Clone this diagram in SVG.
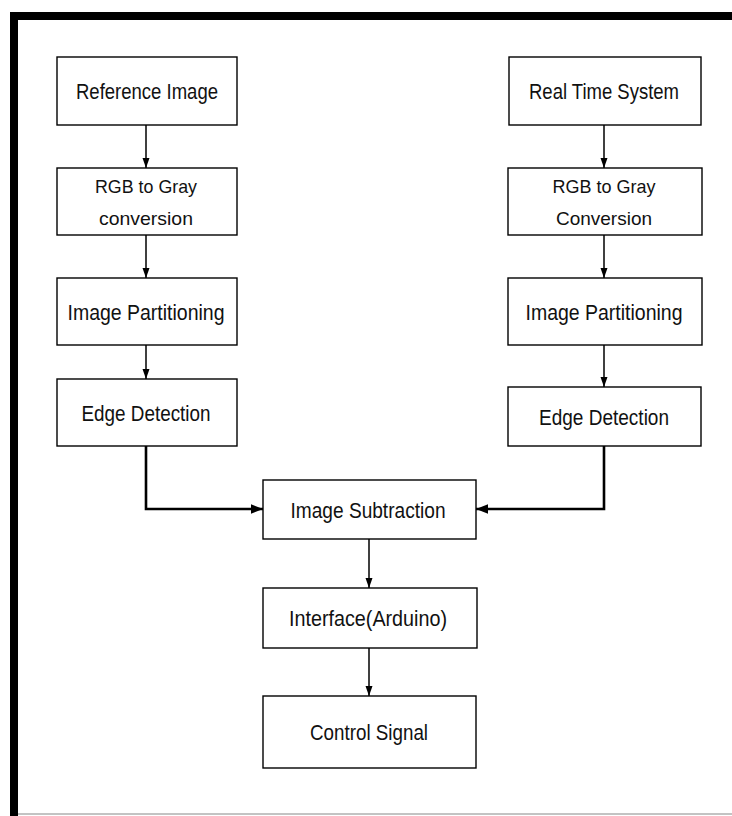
<svg xmlns="http://www.w3.org/2000/svg" width="732" height="816" viewBox="0 0 732 816">
<defs>
<style>
.box{fill:#fff;stroke:#000;stroke-width:1.4}
.t{font-family:"Liberation Sans",Arial,sans-serif;font-size:22px;fill:#111;text-anchor:middle}
.t2{font-family:"Liberation Sans",Arial,sans-serif;font-size:19px;fill:#111;text-anchor:middle}
.c{fill:none;stroke:#000;stroke-width:1.5}
.ct{fill:none;stroke:#000;stroke-width:2.6}
</style>
<marker id="a" markerUnits="userSpaceOnUse" markerWidth="10" markerHeight="10" viewBox="0 0 10 10" refX="10" refY="5" orient="auto">
<path d="M0,1.5 L10,5 L0,8.5 Z" fill="#000"/>
</marker>
<marker id="b" markerUnits="userSpaceOnUse" markerWidth="12" markerHeight="12" viewBox="0 0 10 10" refX="10" refY="5" orient="auto">
<path d="M0,1 L10,5 L0,9 Z" fill="#000"/>
</marker>
</defs>
<rect width="732" height="816" fill="#fff"/>
<g id="frame">
<rect x="10" y="12" width="722" height="8" fill="#000"/>
<rect x="10" y="12" width="8" height="804" fill="#000"/>
<line x1="18" y1="814" x2="732" y2="814" stroke="#888" stroke-width="1.2"/>
</g>
<g id="connectors">
<path class="c" d="M146 125 V168" marker-end="url(#a)"/>
<path class="c" d="M146 235 V278" marker-end="url(#a)"/>
<path class="c" d="M146 345 V379" marker-end="url(#a)"/>
<path class="c" d="M604 125 V168" marker-end="url(#a)"/>
<path class="c" d="M604 235 V278" marker-end="url(#a)"/>
<path class="c" d="M604 345 V387" marker-end="url(#a)"/>
<path class="ct" d="M146 446 V509 H263" marker-end="url(#b)"/>
<path class="ct" d="M604 446 V509 H476" marker-end="url(#b)"/>
<path class="c" d="M369 539 V588" marker-end="url(#a)"/>
<path class="c" d="M369 648 V696" marker-end="url(#a)"/>
</g>
<g id="ref-image">
<rect class="box" x="57" y="57" width="180" height="68"/>
<text class="t" x="147" y="99" textLength="142" lengthAdjust="spacingAndGlyphs">Reference Image</text>
</g>
<g id="rgb-left">
<rect class="box" x="57" y="168" width="180" height="67"/>
<text class="t2" x="146" y="193" textLength="102" lengthAdjust="spacingAndGlyphs">RGB to Gray</text>
<text class="t2" x="146" y="225" textLength="94" lengthAdjust="spacingAndGlyphs">conversion</text>
</g>
<g id="partition-left">
<rect class="box" x="57" y="278" width="180" height="67"/>
<text class="t" x="146" y="320" textLength="157" lengthAdjust="spacingAndGlyphs">Image Partitioning</text>
</g>
<g id="edge-left">
<rect class="box" x="57" y="379" width="180" height="67"/>
<text class="t" x="146" y="421" textLength="129" lengthAdjust="spacingAndGlyphs">Edge Detection</text>
</g>
<g id="real-time">
<rect class="box" x="509" y="57" width="192" height="68"/>
<text class="t" x="604" y="99" textLength="150" lengthAdjust="spacingAndGlyphs">Real Time System</text>
</g>
<g id="rgb-right">
<rect class="box" x="508" y="168" width="194" height="67"/>
<text class="t2" x="604" y="193" textLength="103" lengthAdjust="spacingAndGlyphs">RGB to Gray</text>
<text class="t2" x="604" y="225" textLength="96" lengthAdjust="spacingAndGlyphs">Conversion</text>
</g>
<g id="partition-right">
<rect class="box" x="508" y="278" width="194" height="67"/>
<text class="t" x="604" y="320" textLength="157" lengthAdjust="spacingAndGlyphs">Image Partitioning</text>
</g>
<g id="edge-right">
<rect class="box" x="508" y="387" width="193" height="59"/>
<text class="t" x="604" y="425" textLength="130" lengthAdjust="spacingAndGlyphs">Edge Detection</text>
</g>
<g id="subtraction">
<rect class="box" x="263" y="480" width="213" height="59"/>
<text class="t" x="368" y="518" textLength="155" lengthAdjust="spacingAndGlyphs">Image Subtraction</text>
</g>
<g id="interface">
<rect class="box" x="263" y="588" width="214" height="60"/>
<text class="t" x="368" y="626" textLength="158" lengthAdjust="spacingAndGlyphs">Interface(Arduino)</text>
</g>
<g id="control">
<rect class="box" x="263" y="696" width="213" height="72"/>
<text class="t" x="369" y="740" textLength="118" lengthAdjust="spacingAndGlyphs">Control Signal</text>
</g>
</svg>
